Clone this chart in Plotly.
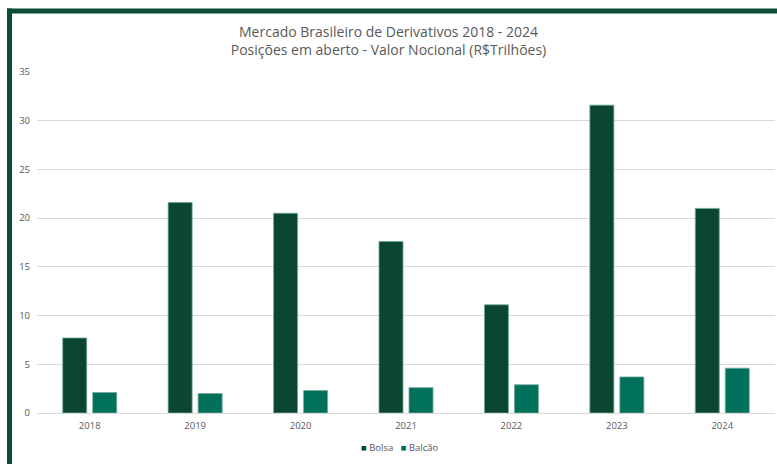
import plotly.graph_objects as go

anos = ["2018", "2019", "2020", "2021", "2022", "2023", "2024"]
bolsa = [7.7, 21.6, 20.5, 17.6, 11.1, 31.6, 21.0]
balcao = [2.1, 2.0, 2.3, 2.6, 2.9, 3.7, 4.6]
y_ticks = [0, 5, 10, 15, 20, 25, 30, 35]
series_names = ["Bolsa", "Balcão"]
series_colors = ["#0A4631", "#00705A"]

W, H = 777, 464
L, R, T, B = 37, 2, 71.7, 50.7
pw, ph = W - L - R, H - T - B

def px_x(x):
    return (x - L) / pw

def px_y(y):
    return (H - B - y) / ph

fig = go.Figure()
for name, vals, col in zip(series_names, [bolsa, balcao], series_colors):
    fig.add_trace(go.Bar(name=name, x=anos, y=vals, showlegend=False,
                         marker=dict(color=col, line=dict(color="#6FA898", width=0.8))))

border = "#0B4D35"
fig.add_shape(type="line", xref="paper", yref="paper",
              x0=px_x(7), x1=px_x(800), y0=px_y(10.5), y1=px_y(10.5),
              line=dict(color=border, width=5))
fig.add_shape(type="line", xref="paper", yref="paper",
              x0=px_x(9.5), x1=px_x(9.5), y0=px_y(8), y1=px_y(500),
              line=dict(color=border, width=5))

legend_text = "   ".join(
    f'<span style="color:{c}">■</span> {n}' for n, c in zip(series_names, series_colors)
)
fig.add_annotation(xref="paper", yref="paper", x=px_x(400), y=px_y(448),
                   xanchor="center", yanchor="middle", showarrow=False,
                   text=legend_text, font=dict(size=9.5, color="#595959"))

fig.update_layout(
    width=W, height=H,
    margin=dict(l=L, r=R, t=T, b=B),
    paper_bgcolor="white", plot_bgcolor="white",
    barmode="group", bargap=0.431, bargroupgap=0.2,
    font=dict(family="Open Sans", color="#595959"),
    title=dict(text="Mercado Brasileiro de Derivativos 2018 - 2024<br>Posições em aberto - Valor Nocional (R$Trilhões)",
               x=0.5, xanchor="center", y=1 - 37 / H, yanchor="middle",
               font=dict(size=14, color="#595959")),
    xaxis=dict(showgrid=False, showline=False, tickfont=dict(size=9.5, color="#595959"),
               ticks="outside", ticklen=4, tickcolor="rgba(0,0,0,0)"),
    yaxis=dict(range=[0, 35], tickvals=y_ticks, showgrid=True, gridcolor="#D9D9D9", gridwidth=1,
               zeroline=True, zerolinecolor="#D9D9D9", zerolinewidth=1,
               tickfont=dict(size=9.5, color="#595959"), ticklabelstandoff=6),
    showlegend=False,
)

fig.write_html("out.html", config={"displayModeBar": False},
               post_script="document.body.style.margin='0';")
